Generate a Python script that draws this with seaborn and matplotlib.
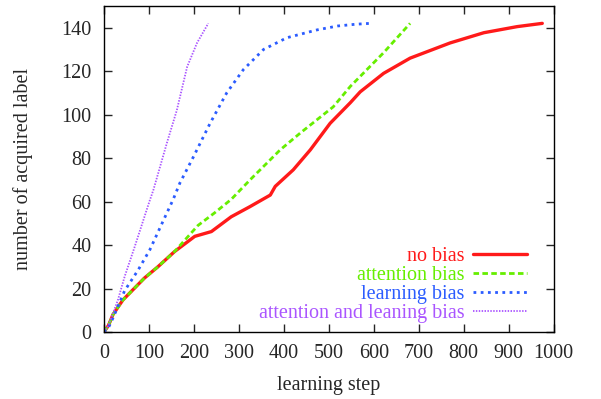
import matplotlib
matplotlib.use("Agg")
import matplotlib.pyplot as plt
import pandas as pd
import seaborn as sns

# Data
no_bias_x = [0, 10, 20, 42, 90, 120, 157, 202, 239, 283, 325, 336, 370, 381, 421,
             459, 503, 548, 570, 622, 681, 770, 845, 919, 975]
no_bias_y = [0, 3, 8, 14.7, 24.8, 30, 37, 44, 46.2, 53, 57.7, 59, 63, 67, 74.6,
             83.8, 96, 105.5, 110.5, 119, 126, 133, 137.7, 140.5, 142]

attention_x = [0, 10, 20, 42, 90, 120, 157, 209, 246, 283, 325, 392, 437, 510,
               548, 622, 681]
attention_y = [0, 3, 8, 14.7, 24.8, 30, 37, 49, 54.8, 61, 70, 83.8, 91.6, 103.6,
               113, 128.5, 142]

learning_x = [0, 10, 20, 46, 76, 102, 131, 154, 169, 199, 236, 273, 310, 355,
              407, 474, 520, 560, 592]
learning_y = [0, 2, 6.4, 19, 28.5, 37.8, 50.8, 61, 68.6, 80.6, 96, 110, 120.7,
              130, 135.4, 139, 140.8, 141.6, 142]

both_x = [0, 10, 31, 46, 68, 90, 101, 110, 140, 162, 185, 207, 232]
both_y = [0, 3, 14.7, 25.5, 39, 53, 60, 65.4, 87, 102, 122, 133, 142]

series = [
    ("no bias", no_bias_x, no_bias_y, "#ff1a1a", "-", 2.4),
    ("attention bias", attention_x, attention_y, "#66ee00", (0, (2.0, 1.2)), 2.0),
    ("learning bias", learning_x, learning_y, "#2b5cff", (0, (1.0, 1.6)), 2.0),
    ("attention and leaning bias", both_x, both_y, "#aa55ff", (0, (0.8, 0.8)), 1.3),
]

FS = 14.5

sns.set_style("ticks")
plt.rcParams["font.family"] = ["Liberation Serif", "DejaVu Serif"]
plt.rcParams["font.size"] = FS

fig = plt.figure(figsize=(6.01, 3.99), dpi=100)
ax = fig.add_axes([0.173, 0.168, 0.748, 0.817])

for name, xs, ys, color, ls, lw in series:
    df = pd.DataFrame({"step": xs, "labels": ys})
    sns.lineplot(data=df, x="step", y="labels", ax=ax, color=color,
                 linestyle=ls, linewidth=lw, label=name, estimator=None,
                 sort=False)

ax.set_xlim(0, 1000)
ax.set_ylim(0, 150)
ax.set_xticks(range(0, 1001, 100))
ax.set_yticks(range(0, 141, 20))
ax.tick_params(direction="in", length=6, width=1, top=True, right=True,
               labelsize=FS, pad=9)
for sp in ax.spines.values():
    sp.set_linewidth(1)
    sp.set_color("black")
ax.set_xlabel("learning step", fontsize=FS, labelpad=9)
ax.set_ylabel("number of acquired label", fontsize=FS, labelpad=20)

leg = ax.legend(loc="lower right", bbox_to_anchor=(527 / 601, 0.19),
                bbox_transform=fig.transFigure, frameon=False, markerfirst=False,
                handlelength=2.7, handletextpad=0.4, labelspacing=0.0,
                borderaxespad=0, borderpad=0, fontsize=FS, labelcolor="linecolor")

fig.savefig("out.png", dpi=100)
